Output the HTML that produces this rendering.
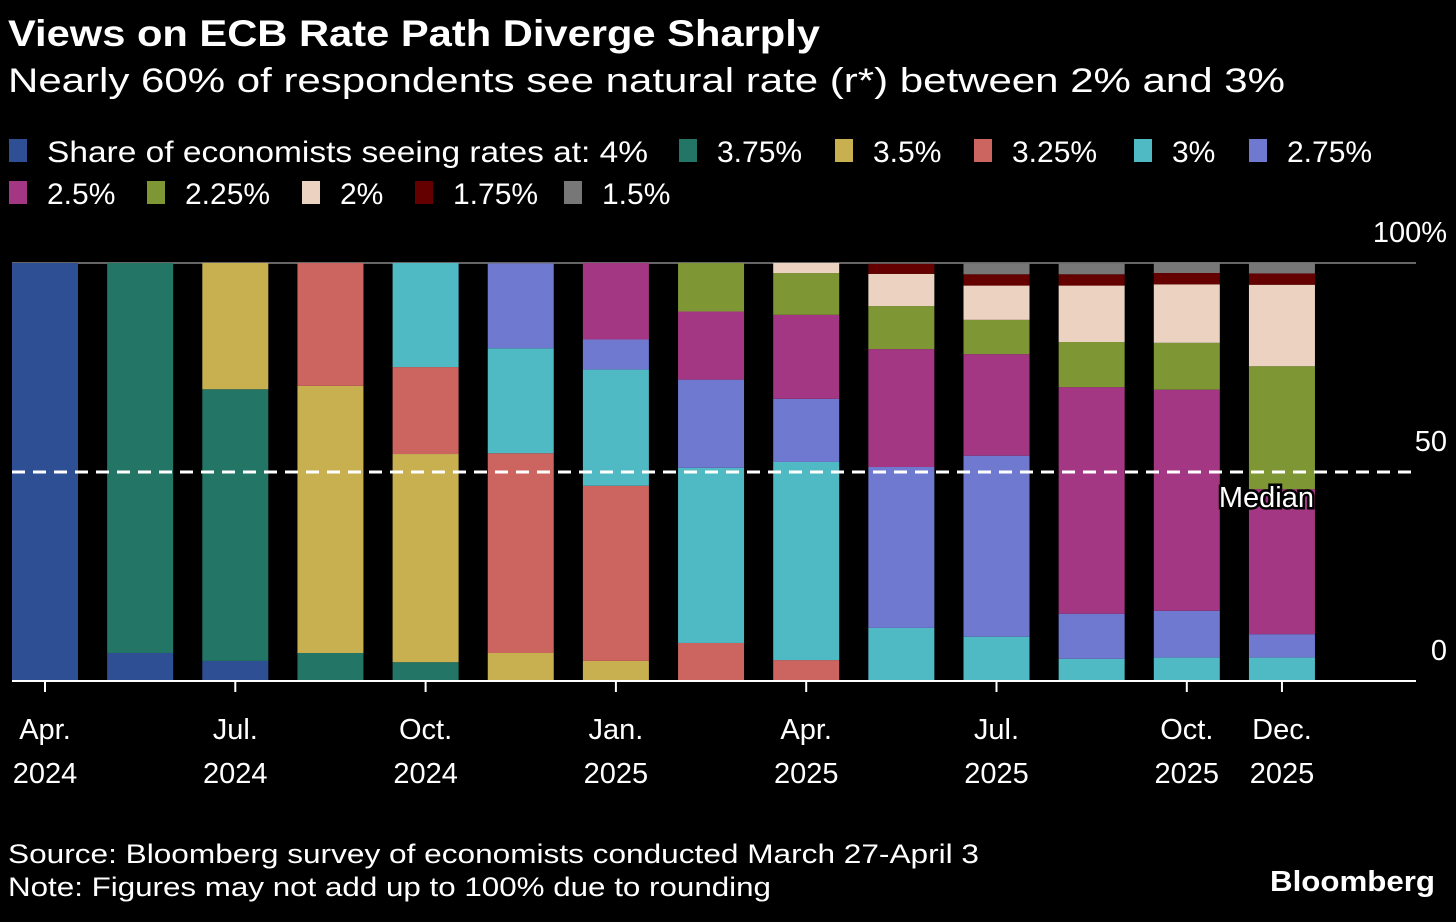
<!DOCTYPE html>
<html><head><meta charset="utf-8"><style>
html,body{margin:0;padding:0;background:#000;}
svg{display:block;font-family:"Liberation Sans",Arial,sans-serif;}
</style></head><body>
<svg id="chart" width="1456" height="922" viewBox="0 0 1456 922">
<rect width="1456" height="922" fill="#000"/>
<text x="8" y="46" font-size="37" font-weight="bold" fill="#fff" textLength="812" lengthAdjust="spacingAndGlyphs">Views on ECB Rate Path Diverge Sharply</text>
<text x="8" y="92" font-size="34" fill="#fff" textLength="1277" lengthAdjust="spacingAndGlyphs">Nearly 60% of respondents see natural rate (r*) between 2% and 3%</text>
<g id="legend"></g>
<g id="grid"></g>
<g id="bars"></g>
<g id="axes"></g>
<text x="8" y="863" font-size="27" fill="#fff" textLength="971" lengthAdjust="spacingAndGlyphs">Source: Bloomberg survey of economists conducted March 27-April 3</text>
<text x="8" y="896" font-size="27" fill="#fff" textLength="763" lengthAdjust="spacingAndGlyphs">Note: Figures may not add up to 100% due to rounding</text>
<text x="1435" y="891" font-size="29" font-weight="bold" fill="#fff" text-anchor="end" textLength="165" lengthAdjust="spacingAndGlyphs">Bloomberg</text>
</svg>
<script>
const seriesNames = ["4%","3.75%","3.5%","3.25%","3%","2.75%","2.5%","2.25%","2%","1.75%","1.5%"];
const seriesColors = ["#2f4f95","#237566","#c8b050","#cc6560","#4fb9c4","#6f79d0","#a43783","#7f9635","#ecd2c0","#650000","#777777"];
const tickLabels = ["Apr.|2024","","Jul.|2024","","Oct.|2024","","Jan.|2025","","Apr.|2025","","Jul.|2025","","Oct.|2025","Dec.|2025"];
const yTicks = [0,50,100];
const v4    = [100,6.7,4.8,0,0,0,0,0,0,0,0,0,0,0];
const v375  = [0,93.3,65,6.7,4.5,0,0,0,0,0,0,0,0,0];
const v35   = [0,0,30.2,63.9,49.8,6.7,4.8,0,0,0,0,0,0,0];
const v325  = [0,0,0,29.4,20.8,47.8,41.9,9.1,5.0,0,0,0,0,0];
const v3    = [0,0,0,0,24.9,25.1,27.8,41.9,47.4,12.7,10.6,5.3,5.6,5.6];
const v275  = [0,0,0,0,0,20.3,7.2,21.1,15.1,38.5,43.3,10.8,11.2,5.6];
const v25   = [0,0,0,0,0,0,18.3,16.3,20.1,28.2,24.3,54.2,52.9,34.7];
const v225  = [0,0,0,0,0,0,0,11.6,10.0,10.3,8.2,10.8,11.2,29.4];
const v2    = [0,0,0,0,0,0,0,0,2.4,7.7,8.2,13.5,14.0,19.5];
const v175  = [0,0,0,0,0,0,0,0,0,2.4,2.7,2.7,2.7,2.7];
const v15   = [0,0,0,0,0,0,0,0,0,0,2.6,2.6,2.6,2.6];
const series = [v4,v375,v35,v325,v3,v275,v25,v225,v2,v175,v15];
const median = 50;

const NS="http://www.w3.org/2000/svg";
function mk(tag,attrs,parent){const e=document.createElementNS(NS,tag);for(const k in attrs)e.setAttribute(k,attrs[k]);parent.appendChild(e);return e;}
const y0=681,y100=263;
const yScale=v=>y0-(y0-y100)*v/100;
const xCenter=i=>45+i*95.15;
const bw=66;

const legend=document.getElementById('legend');
const legPos=[[12,151,"Share of economists seeing rates at: 4%"],[682,151],[838,151],[977,151],[1137,151],[1252,151],[12,193],[150,193],[305,193],[418,193],[567,193]];
seriesNames.forEach((n,i)=>{
  const p=legPos[i];
  const g=mk('g',{},legend);
  
  
  const r=mk('rect',{x:p[0]-3,y:p[1]-12,width:18,height:23,fill:seriesColors[i]},g);
  
  
  const attrs={x:p[0]+35,y:p[1]+11,'font-size':30,fill:'#fff'};
  if(p[2]){attrs.textLength=601;attrs.lengthAdjust='spacingAndGlyphs';}
  const t=mk('text',attrs,g);
  t.textContent=p[2]||n;
  
  
});

const grid=document.getElementById('grid');
const g100=mk('line',{x1:12,x2:1416,y1:yScale(100),y2:yScale(100),stroke:'#666','stroke-width':2},grid);



const bars=document.getElementById('bars');
for(let i=0;i<tickLabels.length;i++){
  let cum=0;
  series.forEach((s,k)=>{
    const v=s[i]; if(!v) return;
    const yt=yScale(cum+v), yb=yScale(cum);
    const r=mk('rect',{x:xCenter(i)-bw/2,y:yt,width:bw,height:yb-yt,fill:seriesColors[k]},bars);
    
    
    cum+=v;
  });
}

const axes=document.getElementById('axes');
const ml=mk('line',{x1:12,x2:1416,y1:yScale(median),y2:yScale(median),stroke:'#fff','stroke-width':3,'stroke-dasharray':'13 8'},axes);


const mt=mk('text',{x:1314,y:yScale(median)+35,'font-size':29,fill:'#fff','text-anchor':'end',stroke:'#000','stroke-width':5,'paint-order':'stroke'},axes);
mt.textContent='Median';


const xa=mk('line',{x1:12,x2:1416,y1:y0,y2:y0,stroke:'#fff','stroke-width':2},axes);


tickLabels.forEach((l,i)=>{
  if(!l) return;
  const tk=mk('line',{x1:xCenter(i),x2:xCenter(i),y1:y0,y2:y0+11,stroke:'#fff','stroke-width':2},axes);
  
  
  const parts=l.split('|');
  parts.forEach((p,j)=>{
    const t=mk('text',{x:xCenter(i),y:739+j*44,'font-size':29,fill:'#fff','text-anchor':'middle'},axes);
    t.textContent=p;
    
    
  });
});
yTicks.forEach(v=>{
  const t=mk('text',{x:1447,y:yScale(v)-21,'font-size':29,fill:'#fff','text-anchor':'end'},axes);
  t.textContent=v===100?'100%':String(v);
  
  
});
</script>
</body></html>
